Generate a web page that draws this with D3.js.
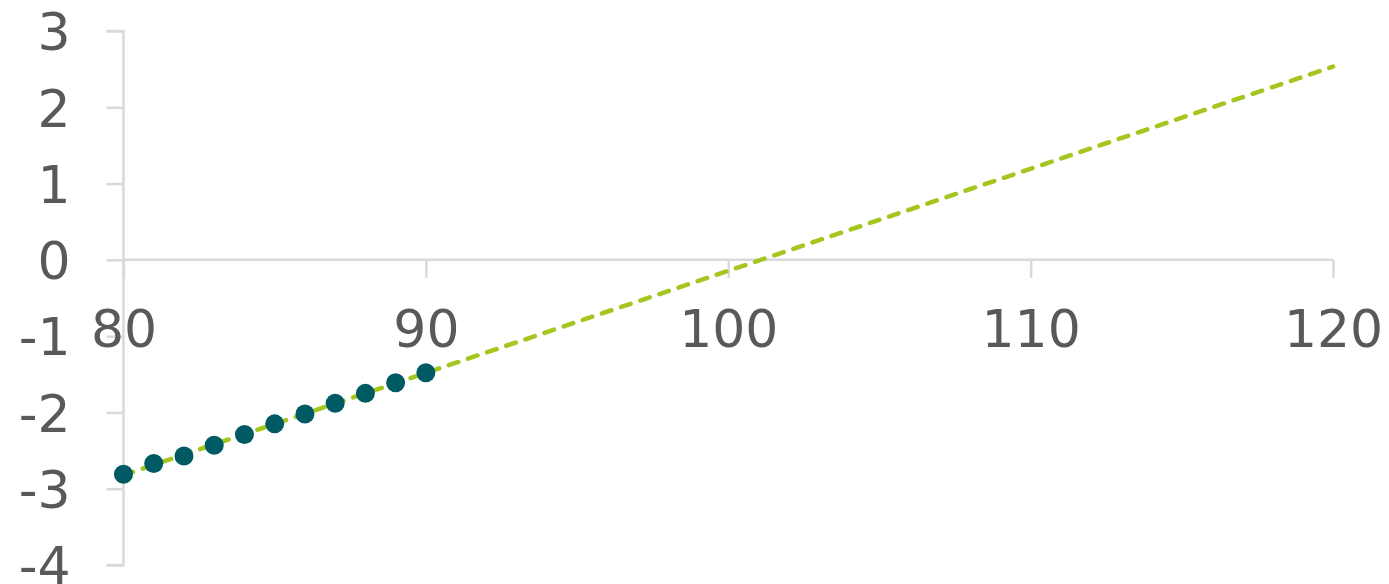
<!DOCTYPE html>
<html>
<head>
<meta charset="utf-8">
<script src="https://cdn.jsdelivr.net/npm/d3@7"></script>
<style>
  html, body { margin: 0; padding: 0; background: #fff; }
  svg { display: block; }
  text { font-family: "DejaVu Sans", Verdana, sans-serif; fill: #595959; }
</style>
</head>
<body>
<svg id="chart" width="1389" height="584"></svg>
<script>
// Observed values
const xValues = [80, 81, 82, 83, 84, 85, 86, 87, 88, 89, 90];
const yValues = [-2.81, -2.67, -2.57, -2.43, -2.29, -2.15, -2.02, -1.88, -1.75, -1.61, -1.48];

// Axis ticks
const xTicks = [80, 90, 100, 110, 120];
const yTicks = [-4, -3, -2, -1, 0, 1, 2, 3];

// Linear trendline extended to the end of the x range
const trendEndX = 120;

const svg = d3.select("#chart");
const x = d3.scaleLinear().domain([80, 120]).range([123.5, 1333]);
const y = d3.scaleLinear().domain([-4, 3]).range([565, 31]);

const axisColor = "#d9d9d9";
const fontSize = 52;
const plainNumber = d => String(d); // hyphen-minus for negatives

// Least-squares fit of the observed points
const n = xValues.length;
const mx = d3.mean(xValues), my = d3.mean(yValues);
let sxy = 0, sxx = 0;
for (let i = 0; i < n; i++) {
  sxy += (xValues[i] - mx) * (yValues[i] - my);
  sxx += (xValues[i] - mx) ** 2;
}
const slope = sxy / sxx;
const intercept = my - slope * mx;
const trend = [xValues[0], trendEndX].map(v => [v, intercept + slope * v]);

// Y axis (vertical line at x = 80, ticks pointing left)
const yAxis = d3.axisLeft(y).tickValues(yTicks).tickSize(17).tickPadding(36).tickFormat(plainNumber);
const gy = svg.append("g").attr("transform", `translate(${x(80)},0)`).call(yAxis);
gy.select(".domain").attr("stroke", axisColor).attr("stroke-width", 2.5).attr("d", `M-17,${y(3)}H0V${y(-4)}H-17`);
gy.selectAll(".tick line").attr("stroke", axisColor).attr("stroke-width", 2.5);
gy.selectAll(".tick text").attr("font-size", fontSize).attr("fill", "#595959")
  .style("font-family", '"DejaVu Sans", Verdana, sans-serif')
  .attr("dy", "0.36em");

// X axis (horizontal line at y = 0, ticks pointing down)
const xAxis = d3.axisBottom(x).tickValues(xTicks).tickSize(18).tickPadding(32).tickFormat(plainNumber);
const gx = svg.append("g").attr("transform", `translate(0,${y(0)})`).call(xAxis);
gx.select(".domain").attr("stroke", axisColor).attr("stroke-width", 2.5).attr("d", `M${x(80)},0H${x(120)}`);
gx.selectAll(".tick line").attr("stroke", axisColor).attr("stroke-width", 2.5);
gx.selectAll(".tick text").attr("font-size", fontSize).attr("fill", "#595959")
  .style("font-family", '"DejaVu Sans", Verdana, sans-serif')
  .attr("dy", "0.71em");

// Dashed trendline
svg.append("path")
  .datum(trend)
  .attr("d", d3.line().x(d => x(d[0])).y(d => y(d[1])))
  .attr("fill", "none")
  .attr("stroke", "#a5c61e")
  .attr("stroke-width", 4.5)
  .attr("stroke-linecap", "round")
  .attr("stroke-dasharray", "10,10.2");

// Data points
svg.append("g").selectAll("circle")
  .data(xValues.map((v, i) => [v, yValues[i]]))
  .join("circle")
  .attr("cx", d => x(d[0]))
  .attr("cy", d => y(d[1]))
  .attr("r", 9.5)
  .attr("fill", "#005a64");
</script>
</body>
</html>
